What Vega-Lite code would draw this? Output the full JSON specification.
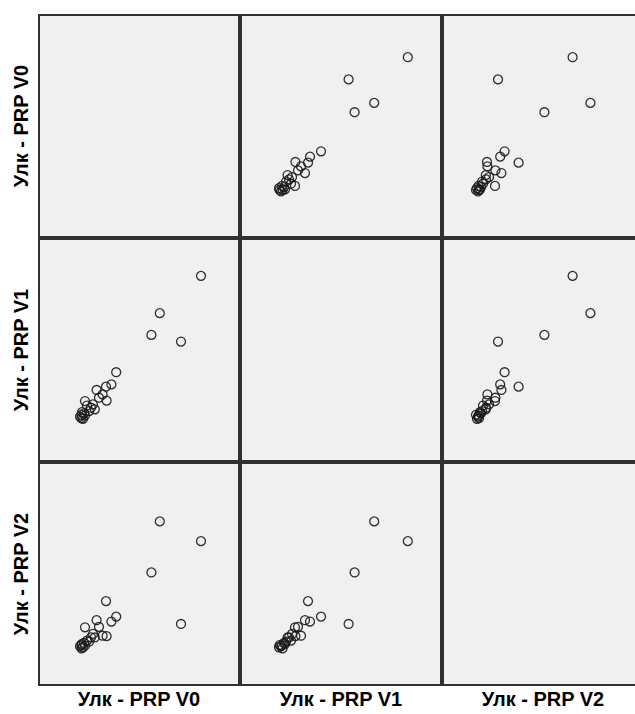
{
  "$schema": "https://vega.github.io/schema/vega-lite/v6.json",
  "background": "white",
  "padding": {"left": 11, "top": 14, "right": 0, "bottom": 0},
  "data": {"values": [
    {"V0": 81.0, "V1": 83.4, "V2": 64.8},
    {"V0": 71.0, "V1": 53.8, "V2": 27.5},
    {"V0": 60.4, "V1": 66.6, "V2": 73.7},
    {"V0": 56.2, "V1": 56.8, "V2": 50.7},
    {"V0": 33.5, "V1": 33.5, "V2": 37.8},
    {"V0": 38.6, "V1": 40.0, "V2": 30.8},
    {"V0": 36.2, "V1": 34.5, "V2": 28.6},
    {"V0": 33.8, "V1": 27.2, "V2": 22.0},
    {"V0": 28.8, "V1": 32.0, "V2": 29.2},
    {"V0": 23.0, "V1": 27.0, "V2": 26.0},
    {"V0": 27.9, "V1": 23.3, "V2": 21.4},
    {"V0": 30.0, "V1": 28.5, "V2": 26.2},
    {"V0": 31.8, "V1": 30.0, "V2": 22.2},
    {"V0": 21.2, "V1": 20.8, "V2": 16.5},
    {"V0": 21.2, "V1": 19.3, "V2": 18.0},
    {"V0": 22.0, "V1": 19.0, "V2": 17.0},
    {"V0": 20.5, "V1": 20.0, "V2": 17.5},
    {"V0": 25.0, "V1": 22.5, "V2": 19.5},
    {"V0": 24.0, "V1": 25.0, "V2": 20.0},
    {"V0": 26.0, "V1": 24.0, "V2": 21.5},
    {"V0": 22.5, "V1": 21.5, "V2": 19.0},
    {"V0": 21.5, "V1": 22.0, "V2": 18.5},
    {"V0": 27.0, "V1": 25.5, "V2": 23.0},
    {"V0": 23.0, "V1": 20.5, "V2": 17.8}
  ]},
  "transform": [
    {"fold": ["V0", "V1", "V2"], "as": ["xvar", "xval"]},
    {"fold": ["V0", "V1", "V2"], "as": ["yvar", "yval"]}
  ],
  "facet": {
    "row": {"field": "yvar", "type": "nominal", "title": null,
      "header": {"labelOrient": "left", "labelAngle": -90, "labelAlign": "center", "labelPadding": -4,
        "labelExpr": "'Улк - PRP ' + datum.value", "labelFont": "Liberation Sans", "labelFontWeight": "bold", "labelFontSize": 20, "labelColor": "#000000"}},
    "column": {"field": "xvar", "type": "nominal", "title": null,
      "header": {"labelOrient": "bottom", "labelPadding": 4,
        "labelExpr": "'Улк - PRP ' + datum.value", "labelFont": "Liberation Sans", "labelFontWeight": "bold", "labelFontSize": 20, "labelColor": "#000000"}}
  },
  "spacing": 0,
  "spec": {
    "width": 200,
    "height": 222,
    "mark": {"type": "point", "shape": "circle", "filled": false, "size": 80, "strokeWidth": 1.3, "color": "#1a1a1a"},
    "encoding": {
      "x": {"field": "xval", "type": "quantitative", "scale": {"domain": [0, 100], "nice": false, "zero": false}, "axis": null},
      "y": {"field": "yval", "type": "quantitative", "scale": {"domain": [0, 100], "nice": false, "zero": false}, "axis": null},
      "opacity": {"condition": {"test": "datum.xvar === datum.yvar", "value": 0}, "value": 0.9}
    }
  },
  "config": {
    "view": {"stroke": "#303030", "strokeWidth": 2, "fill": "#f0f0f0"}
  }
}
